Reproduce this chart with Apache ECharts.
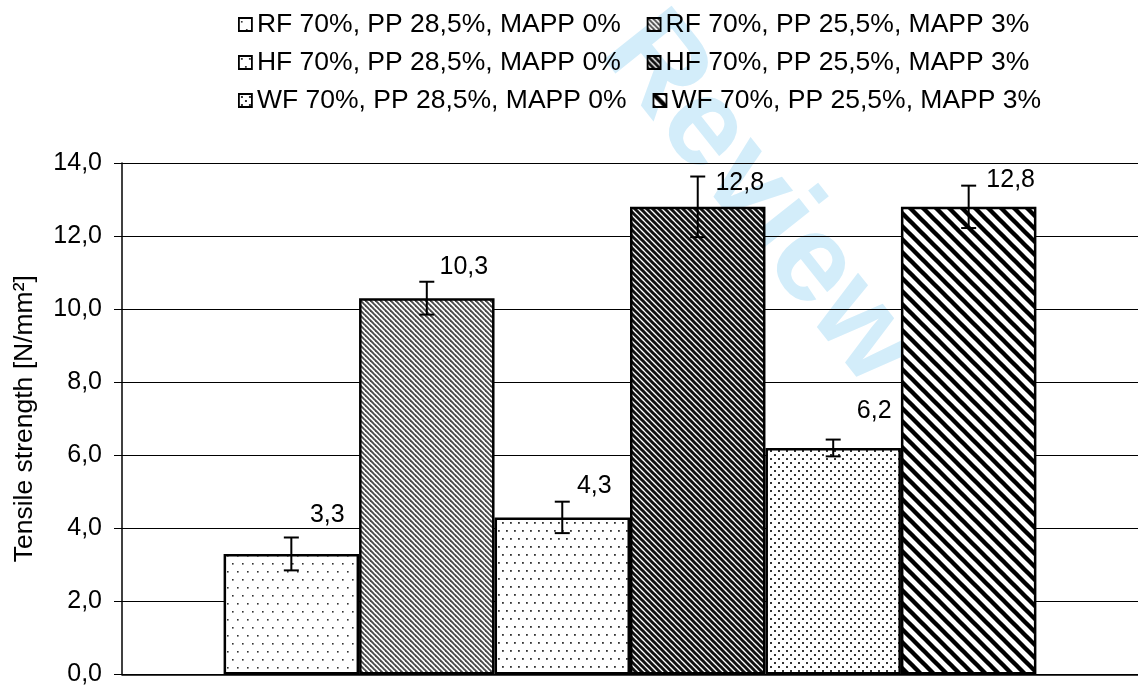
<!DOCTYPE html>
<html>
<head>
<meta charset="utf-8">
<script src="https://cdn.jsdelivr.net/npm/echarts@6/dist/echarts.min.js"></script>
<style>
html,body{margin:0;padding:0;background:#fff;}
#chart{width:1138px;height:687px;}
</style>
</head>
<body>
<div id="chart"></div>
<script>
// ---- data ----
const categories = [''];
const seriesNames = [
  'RF 70%, PP 28,5%, MAPP 0%',
  'RF 70%, PP 25,5%, MAPP 3%',
  'HF 70%, PP 28,5%, MAPP 0%',
  'HF 70%, PP 25,5%, MAPP 3%',
  'WF 70%, PP 28,5%, MAPP 0%',
  'WF 70%, PP 25,5%, MAPP 3%'
];
const values = [3.3, 10.3, 4.3, 12.8, 6.2, 12.8];
const errors = [0.45, 0.45, 0.43, 0.83, 0.23, 0.58];
const yTicks = [0, 2, 4, 6, 8, 10, 12, 14];
const yAxisTitle = 'Tensile strength [N/mm²]';
const watermark = 'Review';

// ---- styles ----
const FONT = 'Liberation Sans, Arial, Helvetica, sans-serif';
const FS = 25;
const FS_LEG = 26.5;
const labelOffsets = [[36, -21], [37, -14], [32, -14], [42, -6], [41, -19], [42, -9]];

function makeCanvas(w, h, draw) {
  const c = document.createElement('canvas');
  c.width = w; c.height = h;
  const ctx = c.getContext('2d');
  ctx.fillStyle = '#fff';
  ctx.fillRect(0, 0, w, h);
  draw(ctx, w, h);
  return c;
}
function dots(w, h, pts, size, col) {
  return makeCanvas(w, h, (ctx) => {
    ctx.fillStyle = col;
    pts.forEach(p => ctx.fillRect(p[0], p[1], size, size));
  });
}
function stripes(period, lw, col) {
  // "\" direction diagonal lines
  return makeCanvas(period, period, (ctx, w, h) => {
    ctx.strokeStyle = col;
    ctx.lineWidth = lw;
    for (let k = -1; k <= 1; k++) {
      ctx.beginPath();
      ctx.moveTo(k * period - period, -period);
      ctx.lineTo(k * period + 2 * period, 2 * period);
      ctx.stroke();
    }
  });
}
const patterns = [
  dots(10, 16, [[2, 3], [7, 11]], 1.6, '#333'),
  stripes(5, 1.9, '#4a4a4a'),
  dots(8, 16, [[2, 2], [6, 10]], 1.8, '#333'),
  stripes(6, 3, '#111'),
  dots(8, 8, [[2, 2], [6, 6]], 2, '#333'),
  stripes(13, 4.4, '#000')
];

const chart = echarts.init(document.getElementById('chart'));

const barSeries = seriesNames.map((name, i) => ({
  name: name,
  type: 'bar',
  data: [values[i]],
  barGap: '0%',
  barCategoryGap: '20%',
  itemStyle: {
    color: { image: patterns[i], repeat: 'repeat' },
    borderColor: '#000',
    borderWidth: 2.5
  },
  label: {
    show: true,
    position: 'top',
    offset: labelOffsets[i],
    color: '#000',
    fontFamily: FONT,
    fontSize: FS,
    formatter: (p) => p.value.toFixed(1).replace('.', ',')
  },
  emphasis: { disabled: true },
  animation: false
}));

const nBars = values.length;
const errSeries = {
  type: 'custom',
  name: 'err',
  data: [0],
  z: 10,
  silent: true,
  animation: false,
  renderItem: function (params, api) {
    const band = api.size([1, 0])[0];
    const center = api.coord([0, 0])[0];
    const bw = band * 0.8 / nBars;
    const start = center - band * 0.4;
    const children = [];
    for (let i = 0; i < nBars; i++) {
      const x = start + bw * (i + 0.5);
      const yHi = api.coord([0, values[i] + errors[i]])[1];
      const yLo = api.coord([0, values[i] - errors[i]])[1];
      const cap = 7.5;
      const st = { stroke: '#000', lineWidth: 2 };
      children.push({ type: 'line', shape: { x1: x, y1: yHi, x2: x, y2: yLo }, style: st });
      children.push({ type: 'line', shape: { x1: x - cap, y1: yHi, x2: x + cap, y2: yHi }, style: st });
      children.push({ type: 'line', shape: { x1: x - cap, y1: yLo, x2: x + cap, y2: yLo }, style: st });
    }
    return { type: 'group', children: children };
  }
};

function legendRow(idx, top) {
  return {
    data: idx.map(i => seriesNames[i]),
    top: top,
    left: 233,
    orient: 'horizontal',
    icon: 'rect',
    itemWidth: 13,
    itemHeight: 13,
    itemGap: 26,
    selectedMode: false,
    itemStyle: { borderColor: '#000', borderWidth: 1.8 },
    textStyle: { fontFamily: FONT, fontSize: FS_LEG, color: '#000', padding: [0, 0, 0, 0] }
  };
}

chart.setOption({
  backgroundColor: '#fff',
  animation: false,
  textStyle: { fontFamily: FONT },
  graphic: [{
    type: 'text',
    z: -10,
    silent: true,
    x: 760, y: 200,
    rotation: -0.9,
    style: {
      text: watermark,
      font: 'bold 125px Liberation Sans, Arial, sans-serif',
      fill: '#d3edfa',
      textAlign: 'center',
      textVerticalAlign: 'middle'
    }
  }],
  legend: [legendRow([0, 1], 6), legendRow([2, 3], 44), legendRow([4, 5], 82)],
  grid: { left: 122, right: -10, top: 163, bottom: 8, containLabel: false },
  xAxis: {
    type: 'category',
    data: categories,
    axisLine: { show: true, lineStyle: { color: '#000', width: 1.5 } },
    axisTick: { show: false },
    axisLabel: { show: false },
    splitLine: { show: false }
  },
  yAxis: {
    type: 'value',
    min: yTicks[0],
    max: yTicks[yTicks.length - 1],
    interval: 2,
    name: yAxisTitle,
    nameLocation: 'middle',
    nameGap: 84,
    nameRotate: 90,
    nameTextStyle: { fontFamily: FONT, fontSize: FS_LEG, color: '#000' },
    axisLine: { show: true, lineStyle: { color: '#000', width: 1.5 } },
    axisTick: { show: true, inside: false, length: 8, lineStyle: { color: '#000', width: 1 } },
    axisLabel: {
      margin: 20,
      color: '#000',
      fontFamily: FONT,
      fontSize: FS,
      formatter: (v) => v.toFixed(1).replace('.', ',')
    },
    splitLine: { show: true, lineStyle: { color: '#000', width: 1 } }
  },
  series: barSeries.concat([errSeries])
});
</script>
</body>
</html>
